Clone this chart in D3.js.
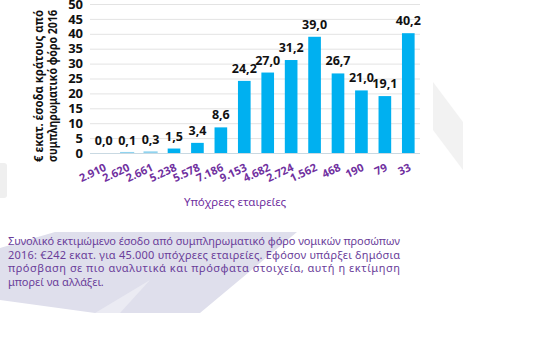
<!DOCTYPE html>
<html><head><meta charset="utf-8">
<script src="https://cdn.jsdelivr.net/npm/d3@7"></script>
<style>html,body{margin:0;padding:0;background:#fff;}svg{display:block;}</style>
</head><body>
<svg id="c" width="559" height="345"></svg>
<script>
const categories = ["2.910","2.620","2.661","5.238","5.578","7.186","9.153","4.682","2.724","1.562","468","190","79","33"];
const values = [0.0,0.1,0.3,1.5,3.4,8.6,24.2,27.0,31.2,39.0,26.7,21.0,19.1,40.2];
const yTicks = [0,5,10,15,20,25,30,35,40,45,50];
const yTitle = ["€ εκατ. έσοδα κράτους από","συμπληρωματικό φόρο 2016"];
const xTitle = "Υπόχρεες εταιρείες";
const noteLines = [
  "Συνολικό εκτιμώμενο έσοδο από συμπληρωματικό φόρο νομικών προσώπων",
  "2016: €242 εκατ. για 45.000 υπόχρεες εταιρείες. Εφόσον υπάρξει δημόσια",
  "πρόσβαση σε πιο αναλυτικά και πρόσφατα στοιχεία, αυτή η εκτίμηση",
  "μπορεί να αλλάξει."
];

const svg = d3.select("#c");
const font = "'Noto Sans','Open Sans',sans-serif";

// faint watermark shapes
svg.append("polygon").attr("points","0,248 55,232 297,232 200,313 95,313 0,300").attr("fill","#dfdfec");
svg.append("polygon").attr("points","150,280 120,313 95,313").attr("fill","#ebebf3");
svg.append("rect").attr("x",-4).attr("y",163).attr("width",11).attr("height",35).attr("rx",3).attr("fill","#efefef");
svg.append("polygon").attr("points","433,82 463,122 463,170 433,130").attr("fill","#f2f2f2");

const x = d3.scaleBand().domain(categories).range([92,420]).paddingInner(0.46).paddingOuter(0.23);
const y = d3.scaleLinear().domain([0,50]).range([153,4]);

// gridlines
svg.append("g").selectAll("line").data(yTicks.slice(1)).join("line")
  .attr("x1",90).attr("x2",420).attr("y1",d=>y(d)+0.5).attr("y2",d=>y(d)+0.5)
  .attr("stroke","#e3e3e3").attr("stroke-width",1);

// y axis labels
const ya = svg.append("g").attr("transform","translate(83,0)")
  .call(d3.axisLeft(y).tickValues(yTicks).tickSize(0).tickPadding(0).tickFormat(d3.format("d")));
ya.select(".domain").remove();
ya.selectAll("text").attr("font-family",font).attr("font-size",13).attr("font-weight","bold").attr("fill","#111");

// bars
svg.append("g").selectAll("rect").data(values).join("rect")
  .attr("x",(d,i)=>x(categories[i])).attr("width",x.bandwidth())
  .attr("y",d=>y(d)).attr("height",d=>y(0)-y(d))
  .attr("fill","#00b0f0").attr("stroke",d=>d<1?"#8fd3ef":"none").attr("stroke-width",1.5);

// x axis line
svg.append("line").attr("x1",90).attr("x2",420).attr("y1",153.5).attr("y2",153.5).attr("stroke","#c9d9e2");

// data labels
svg.append("g").selectAll("text").data(values).join("text")
  .attr("x",(d,i)=>x(categories[i])+x.bandwidth()/2).attr("y",d=>y(d)-8)
  .attr("text-anchor","middle").attr("font-family",font).attr("font-size",12.5).attr("font-weight","bold").attr("fill","#111")
  .text(d=>d3.format(".1f")(d).replace(".",","));

// x tick labels
svg.append("g").selectAll("text").data(categories).join("text")
  .attr("transform",d=>`translate(${x(d)+x.bandwidth()/2},163) rotate(-25)`)
  .attr("text-anchor","end").attr("dy","0.72em")
  .attr("font-family",font).attr("font-size",11).attr("font-weight","bold").attr("fill","#7030a0")
  .text(d=>d);

// x title
svg.append("text").attr("x",235).attr("y",206).attr("text-anchor","middle")
  .attr("font-family",font).attr("font-size",11.5).attr("fill","#7030a0").text(xTitle);

// y title
const yt = svg.append("g").attr("transform","translate(0,86) rotate(-90)");
yt.selectAll("text").data(yTitle).join("text")
  .attr("x",0).attr("y",(d,i)=>42.5+i*14).attr("text-anchor","middle")
  .attr("textLength",152).attr("lengthAdjust","spacingAndGlyphs")
  .attr("font-family",font).attr("font-size",12).attr("font-weight","bold").attr("fill","#111")
  .text(d=>d);

// note paragraph
svg.append("g").selectAll("text").data(noteLines).join("text")
  .attr("x",8).attr("y",(d,i)=>245+i*13.5)
  .attr("font-family",font).attr("font-size",11).attr("fill","#6a3d9a")
  .each(function(d,i){ if(i<3) d3.select(this).attr("textLength",392).attr("lengthAdjust","spacing"); })
  .text(d=>d);
</script>
</body></html>
